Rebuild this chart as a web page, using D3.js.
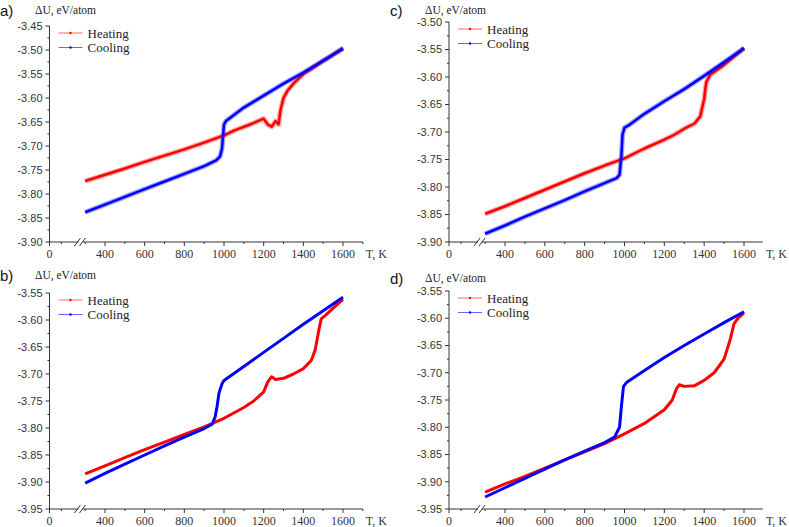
<!DOCTYPE html>
<html lang="en">
<head>
  <meta charset="utf-8">
  <script src="https://d3js.org/d3.v7.min.js"></script>
  <style>
    body { margin: 0; background: #fff; }
    .ylab { font-family: "Liberation Sans", Arial, sans-serif; font-size: 11px; fill: #333; }
    .xlab { font-family: "Liberation Serif", "Times New Roman", serif; font-size: 12px; fill: #333; }
    .serif { font-family: "Liberation Serif", "Times New Roman", serif; fill: #222; }
    .panel { font-family: "Liberation Sans", Arial, sans-serif; font-size: 15px; fill: #111; }
  </style>
</head>
<body>
<svg id="chart" width="789" height="527"></svg>
<script>
  // series: [T (K), dU (eV/atom)]
  const heatA = [[300,-3.773],[400,-3.760],[500,-3.747],[600,-3.733],[700,-3.720],[800,-3.707],[900,-3.693],[1000,-3.678],
    [1050,-3.668],[1100,-3.660],[1150,-3.652],[1200,-3.643],[1220,-3.655],[1240,-3.660],[1260,-3.648],[1275,-3.655],
    [1285,-3.625],[1300,-3.600],[1320,-3.585],[1350,-3.570],[1400,-3.550],[1450,-3.537],[1500,-3.523],[1550,-3.510],[1600,-3.496]];
  const coolA = [[300,-3.838],[400,-3.822],[500,-3.806],[600,-3.790],[700,-3.774],[800,-3.758],[900,-3.742],[960,-3.730],
    [980,-3.722],[990,-3.705],[995,-3.680],[1000,-3.655],[1010,-3.648],[1100,-3.620],[1200,-3.595],[1300,-3.570],
    [1400,-3.547],[1500,-3.522],[1600,-3.497]];
  const heatB = [[300,-3.885],[400,-3.870],[500,-3.855],[600,-3.840],[700,-3.826],[800,-3.812],[900,-3.798],[1000,-3.782],
    [1100,-3.762],[1150,-3.750],[1200,-3.733],[1220,-3.715],[1240,-3.705],[1260,-3.710],[1300,-3.708],[1350,-3.700],
    [1400,-3.690],[1440,-3.675],[1460,-3.655],[1475,-3.625],[1490,-3.598],[1510,-3.592],[1550,-3.578],[1600,-3.562]];
  const coolB = [[300,-3.902],[400,-3.884],[500,-3.867],[600,-3.850],[700,-3.833],[800,-3.817],[900,-3.801],[940,-3.793],
    [955,-3.780],[965,-3.760],[975,-3.735],[990,-3.718],[1000,-3.712],[1100,-3.686],[1200,-3.660],[1300,-3.634],
    [1400,-3.608],[1500,-3.583],[1600,-3.558]];
  const heatC = [[300,-3.849],[400,-3.835],[500,-3.820],[600,-3.805],[700,-3.790],[800,-3.775],[900,-3.761],[1000,-3.748],
    [1100,-3.730],[1200,-3.714],[1250,-3.705],[1300,-3.694],[1350,-3.685],[1380,-3.672],[1400,-3.640],[1410,-3.610],
    [1430,-3.596],[1500,-3.578],[1550,-3.563],[1600,-3.547]];
  const coolC = [[300,-3.885],[400,-3.870],[500,-3.854],[600,-3.839],[700,-3.824],[800,-3.808],[900,-3.793],[960,-3.784],
    [975,-3.778],[985,-3.740],[990,-3.705],[1000,-3.692],[1020,-3.688],[1100,-3.667],[1200,-3.644],[1300,-3.622],
    [1400,-3.598],[1500,-3.573],[1600,-3.548]];
  const heatD = [[300,-3.919],[400,-3.904],[500,-3.890],[600,-3.875],[700,-3.860],[800,-3.845],[900,-3.830],[1000,-3.812],
    [1100,-3.793],[1200,-3.768],[1240,-3.750],[1260,-3.730],[1275,-3.722],[1300,-3.725],[1350,-3.724],[1400,-3.714],
    [1450,-3.700],[1500,-3.675],[1530,-3.640],[1550,-3.610],[1570,-3.600],[1600,-3.590]];
  const coolD = [[300,-3.928],[400,-3.911],[500,-3.894],[600,-3.877],[700,-3.860],[800,-3.844],[900,-3.828],[950,-3.818],
    [975,-3.800],[985,-3.760],[995,-3.725],[1010,-3.718],[1100,-3.696],[1200,-3.672],[1300,-3.650],[1400,-3.629],
    [1500,-3.608],[1600,-3.588]];

  const xTicks = [400, 600, 800, 1000, 1200, 1400, 1600];
  const xMinor = [120, 300, 500, 700, 900, 1100, 1300, 1500, 1700];
  const legendNames = ["Heating", "Cooling"];
  const colors = ["#ff0000", "#0000ff"];

  // panel layout (pixels) + y range
  const panels = [
    { tag: "a)", heat: heatA, cool: coolA, yDom: [-3.90, -3.45], left: 49.5, bottom: 242, top: 26, x400: 105, x1600: 343, xEnd: 1700, lx: 0, ly: 0, noisy: true },
    { tag: "b)", heat: heatB, cool: coolB, yDom: [-3.95, -3.55], left: 49.5, bottom: 509, top: 293, x400: 105, x1600: 343, xEnd: 1700, lx: 0, ly: 265, noisy: false },
    { tag: "c)", heat: heatC, cool: coolC, yDom: [-3.90, -3.50], left: 449, bottom: 242, top: 22, x400: 505, x1600: 744, xEnd: 1695, lx: 390, ly: 0, noisy: true },
    { tag: "d)", heat: heatD, cool: coolD, yDom: [-3.95, -3.55], left: 449, bottom: 509, top: 291, x400: 505, x1600: 744, xEnd: 1695, lx: 390, ly: 268, noisy: false }
  ];

  const svg = d3.select("#chart");

  panels.forEach(p => {
    const k = (p.x1600 - p.x400) / 1200;
    const x = d3.scaleLinear()
      .domain([0, 240, 1700])
      .range([p.left, p.x400 - 160 * k, p.x400 + 1300 * k]);
    const y = d3.scaleLinear().domain(p.yDom).range([p.bottom, p.top]);
    const g = svg.append("g");

    // titles
    g.append("text").attr("class", "panel").attr("x", p.lx).attr("y", p.ly + 16).text(p.tag);
    g.append("text").attr("class", "serif").attr("font-size", 11.5)
      .attr("x", p.lx + 35).attr("y", p.ly + 14).text("\u0394U, eV/atom");

    // y axis
    const yMaj = d3.range(Math.round(p.yDom[0] * 100), Math.round(p.yDom[1] * 100) + 1, 5).map(v => v / 100);
    const yMin = yMaj.slice(0, -1).map(v => v + 0.025);
    g.append("line").attr("x1", p.left).attr("x2", p.left).attr("y1", p.top).attr("y2", p.bottom)
      .attr("stroke", "#333").attr("stroke-width", 1);
    g.selectAll(".ymaj").data(yMaj).join("line")
      .attr("x1", p.left - 4).attr("x2", p.left).attr("y1", d => y(d)).attr("y2", d => y(d))
      .attr("stroke", "#333");
    g.selectAll(".ymin").data(yMin).join("line")
      .attr("x1", p.left - 2).attr("x2", p.left).attr("y1", d => y(d)).attr("y2", d => y(d))
      .attr("stroke", "#333");
    g.selectAll(".ylab").data(yMaj).join("text").attr("class", "ylab")
      .attr("x", p.left - 7).attr("y", d => y(d)).attr("dy", "0.35em").attr("text-anchor", "end")
      .text(d => d3.format(".2f")(d).replace("\u2212", "-"));

    // x axis with break
    g.append("line").attr("x1", p.left).attr("x2", x(p.xEnd)).attr("y1", p.bottom).attr("y2", p.bottom)
      .attr("stroke", "#333");
    g.selectAll(".xmaj").data([0].concat(xTicks)).join("line")
      .attr("x1", d => x(d)).attr("x2", d => x(d)).attr("y1", p.bottom).attr("y2", p.bottom + 4)
      .attr("stroke", "#333");
    g.selectAll(".xmin").data(xMinor.filter(v => v <= p.xEnd)).join("line")
      .attr("x1", d => x(d)).attr("x2", d => x(d)).attr("y1", p.bottom).attr("y2", p.bottom + 2)
      .attr("stroke", "#333");
    g.selectAll(".xlab").data([0].concat(xTicks)).join("text").attr("class", "xlab")
      .attr("x", d => x(d)).attr("y", p.bottom + 16).attr("text-anchor", "middle").text(d => d);
    g.append("text").attr("class", "xlab").attr("x", x(p.xEnd) + 3).attr("y", p.bottom + 16).text("T, K");

    const bx = p.left + 30;
    g.append("rect").attr("x", bx - 1).attr("y", p.bottom - 2).attr("width", 4).attr("height", 4).attr("fill", "#fff");
    [bx - 2, bx + 3].forEach(cx => {
      g.append("line").attr("x1", cx - 3).attr("y1", p.bottom + 4).attr("x2", cx + 3).attr("y2", p.bottom - 4)
        .attr("stroke", "#333");
    });

    // curves
    const line = d3.line().x(d => x(d[0])).y(d => y(d[1]));
    [p.heat, p.cool].forEach((s, i) => {
      if (p.noisy) {
        g.append("path").datum(s).attr("d", line).attr("fill", "none")
          .attr("stroke", colors[i]).attr("stroke-width", 5).attr("stroke-opacity", 0.35)
          .attr("stroke-linejoin", "round");
      }
      g.append("path").datum(s).attr("d", line).attr("fill", "none")
        .attr("stroke", colors[i]).attr("stroke-width", p.noisy ? 2.5 : 3)
        .attr("stroke-linejoin", "round");
    });

    // legend
    legendNames.forEach((name, i) => {
      const ly = p.top + 7 + i * 14.5;
      const lx = p.left + 9;
      g.append("line").attr("x1", lx).attr("x2", lx + 24).attr("y1", ly).attr("y2", ly)
        .attr("stroke", colors[i]).attr("stroke-opacity", 0.6).attr("stroke-width", 1);
      g.append("circle").attr("cx", lx + 12).attr("cy", ly).attr("r", 1.2).attr("fill", colors[i]);
      g.append("text").attr("class", "serif").attr("font-size", 13)
        .attr("x", lx + 29).attr("y", ly).attr("dy", "0.35em").text(name);
    });
  });
</script>
</body>
</html>
